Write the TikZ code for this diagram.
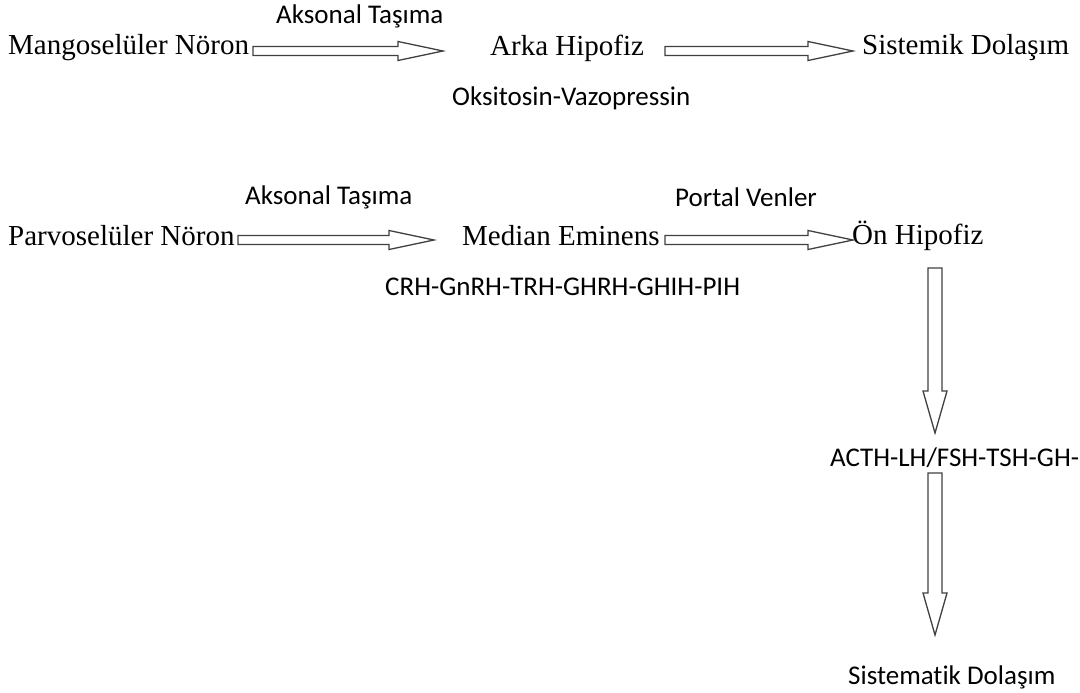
\documentclass[tikz,border=0pt]{standalone}
\usepackage{fontspec}
\setmainfont{Liberation Serif}
\newfontfamily\etiketfont[Ligatures=NoCommon]{Carlito}
\usetikzlibrary{calc}
\tikzset{
 organ/.style={inner sep=0pt,anchor=west,font=\fontsize{29}{34}\selectfont},
 etiket/.style={inner sep=0pt,anchor=west,font=\etiketfont\fontsize{27}{32}\selectfont},
 kalinok/.style n args={3}{draw=black!75,line width=1.3pt,line join=miter,
  to path={($(\tikztostart)!#1!90:(\tikztotarget)$)
   --($(\tikztotarget)!#3!(\tikztostart)!#1!-90:(\tikztostart)$)
   --($(\tikztotarget)!#3!(\tikztostart)!#2!-90:(\tikztostart)$)
   --(\tikztotarget)
   --($(\tikztotarget)!#3!(\tikztostart)!#2!90:(\tikztostart)$)
   --($(\tikztotarget)!#3!(\tikztostart)!#1!90:(\tikztostart)$)
   --($(\tikztostart)!#1!-90:(\tikztotarget)$)--cycle}},
 yatay/.style={kalinok={4.5pt}{9.5pt}{45pt}},
 dikey/.style={kalinok={7pt}{12pt}{42pt}}
}
\begin{document}
\begin{tikzpicture}[x=1pt,y=-1pt]
 \useasboundingbox (0,0) rectangle (1080,693);
 \path
 (8,48) node[organ] (mango) {Mangoselüler Nöron} % <<< satır 1
 (490,48) node[organ] (arka) {Arka Hipofiz}
 (862,48) node[organ] (sistemik) {Sistemik Dolaşım}
 (276,16) node[etiket] (aks1) {Aksonal Taşıma}
 (452,98) node[etiket] (oks) {Oksitosin-Vazopressin}
 (253,51) coordinate (o1a) (443,51) coordinate (o1b)
 (665,51) coordinate (o2a) (853,51) coordinate (o2b)
 (8,236) node[organ] (parvo) {Parvoselüler Nöron} % <<< satır 2
 (462,236) node[organ] (median) {Median Eminens}
 (852,236) node[organ] (on) {Ön Hipofiz}
 (245,197) node[etiket] (aks2) {Aksonal Taşıma}
 (675,197) node[etiket] (portal) {Portal Venler}
 (385,287) node[etiket] (crh) {CRH-GnRH-TRH-GHRH-GHIH-PIH}
 (238,240) coordinate (o3a) (434,240) coordinate (o3b)
 (665,240) coordinate (o4a) (853,240) coordinate (o4b)
 (830,458) node[etiket] (acth) {ACTH-LH/FSH-TSH-GH-} % <<< aşağı
 (848,677) node[etiket] (sistematik) {Sistematik Dolaşım}
 (935,268) coordinate (o5a) (935,433) coordinate (o5b)
 (935,473) coordinate (o6a) (935,635) coordinate (o6b);
 \draw[yatay] (o1a) to (o1b);
 \draw[yatay] (o2a) to (o2b);
 \draw[yatay] (o3a) to (o3b);
 \draw[yatay] (o4a) to (o4b);
 \draw[dikey] (o5a) to (o5b);
 \draw[dikey] (o6a) to (o6b);
\end{tikzpicture}
\end{document}
